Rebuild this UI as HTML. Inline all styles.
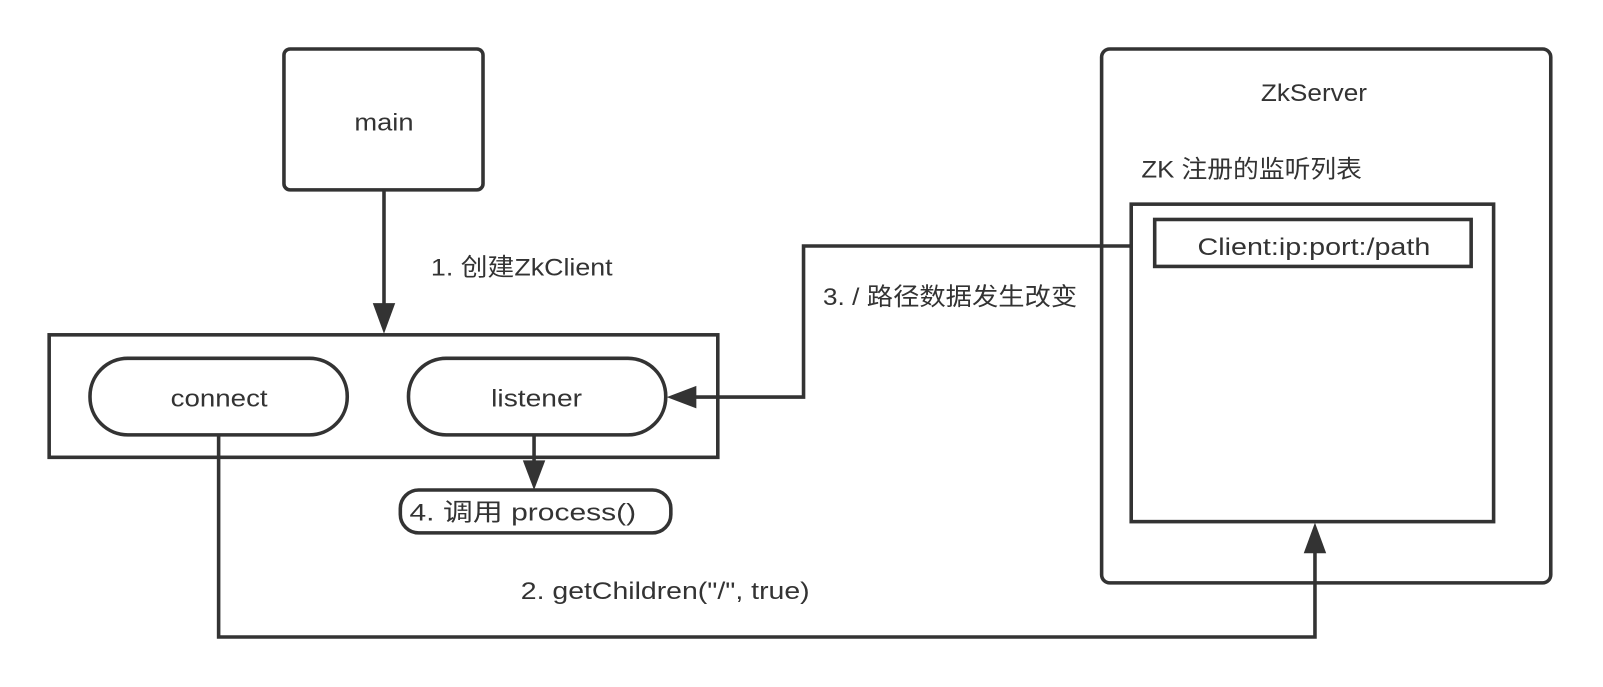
<!DOCTYPE html>
<html><head><meta charset="utf-8"><style>html,body{margin:0;padding:0;background:#fff;}svg{display:block}</style></head>
<body>
<svg width="1603" height="687" viewBox="0 0 1570 673" xmlns="http://www.w3.org/2000/svg" font-family="'Liberation Sans','Noto Sans CJK SC',sans-serif" font-size="24" fill="#333">
<rect width="1570" height="673" fill="#fff"/>
<g fill="none" stroke="#333" stroke-width="3.5">
<rect x="278" y="48" width="195" height="138" rx="6"/>
<line x1="376" y1="186" x2="376" y2="298"/>
<rect x="48" y="328" width="655" height="120"/>
<rect x="88" y="351" width="252" height="75" rx="37"/>
<rect x="400" y="351" width="252" height="75" rx="37"/>
<line x1="523" y1="426" x2="523" y2="452"/>
<rect x="392" y="480" width="265" height="42" rx="18"/>
<polyline points="214,426 214,624 1288,624 1288,540"/>
<rect x="1079" y="48" width="440" height="523" rx="8"/>
<rect x="1108" y="200" width="355" height="311"/>
<rect x="1131" y="215" width="310" height="46"/>
<polyline points="1108,241 787,241 787,389 680,389"/>
</g>
<g fill="#333">
<polygon points="365,297 387,297 376,327"/>
<polygon points="512,451 534,451 523,480"/>
<polygon points="1277,542 1299,542 1288,512"/>
<polygon points="682,378 682,400 653,389"/>
</g>
<g lengthAdjust="spacingAndGlyphs">
<text x="347" y="128" textLength="58" lengthAdjust="spacingAndGlyphs">main</text>
<text x="167" y="398" textLength="95" lengthAdjust="spacingAndGlyphs">connect</text>
<text x="481" y="398" textLength="89" lengthAdjust="spacingAndGlyphs">listener</text>
<text x="401" y="510" textLength="222" lengthAdjust="spacingAndGlyphs">4. 调用 process()</text>
<text x="1235" y="99" textLength="104" lengthAdjust="spacingAndGlyphs">ZkServer</text>
<text x="1173" y="250" textLength="228" lengthAdjust="spacingAndGlyphs">Client:ip:port:/path</text>
<text x="422" y="270" textLength="178" lengthAdjust="spacingAndGlyphs">1. 创建ZkClient</text>
<text x="510" y="587" textLength="283" lengthAdjust="spacingAndGlyphs">2. getChildren("/", true)</text>
<text x="806" y="299" textLength="249" lengthAdjust="spacingAndGlyphs">3. / 路径数据发生改变</text>
<text x="1118" y="174" textLength="216" lengthAdjust="spacingAndGlyphs">ZK 注册的监听列表</text>
</g>
</svg>
</body></html>
